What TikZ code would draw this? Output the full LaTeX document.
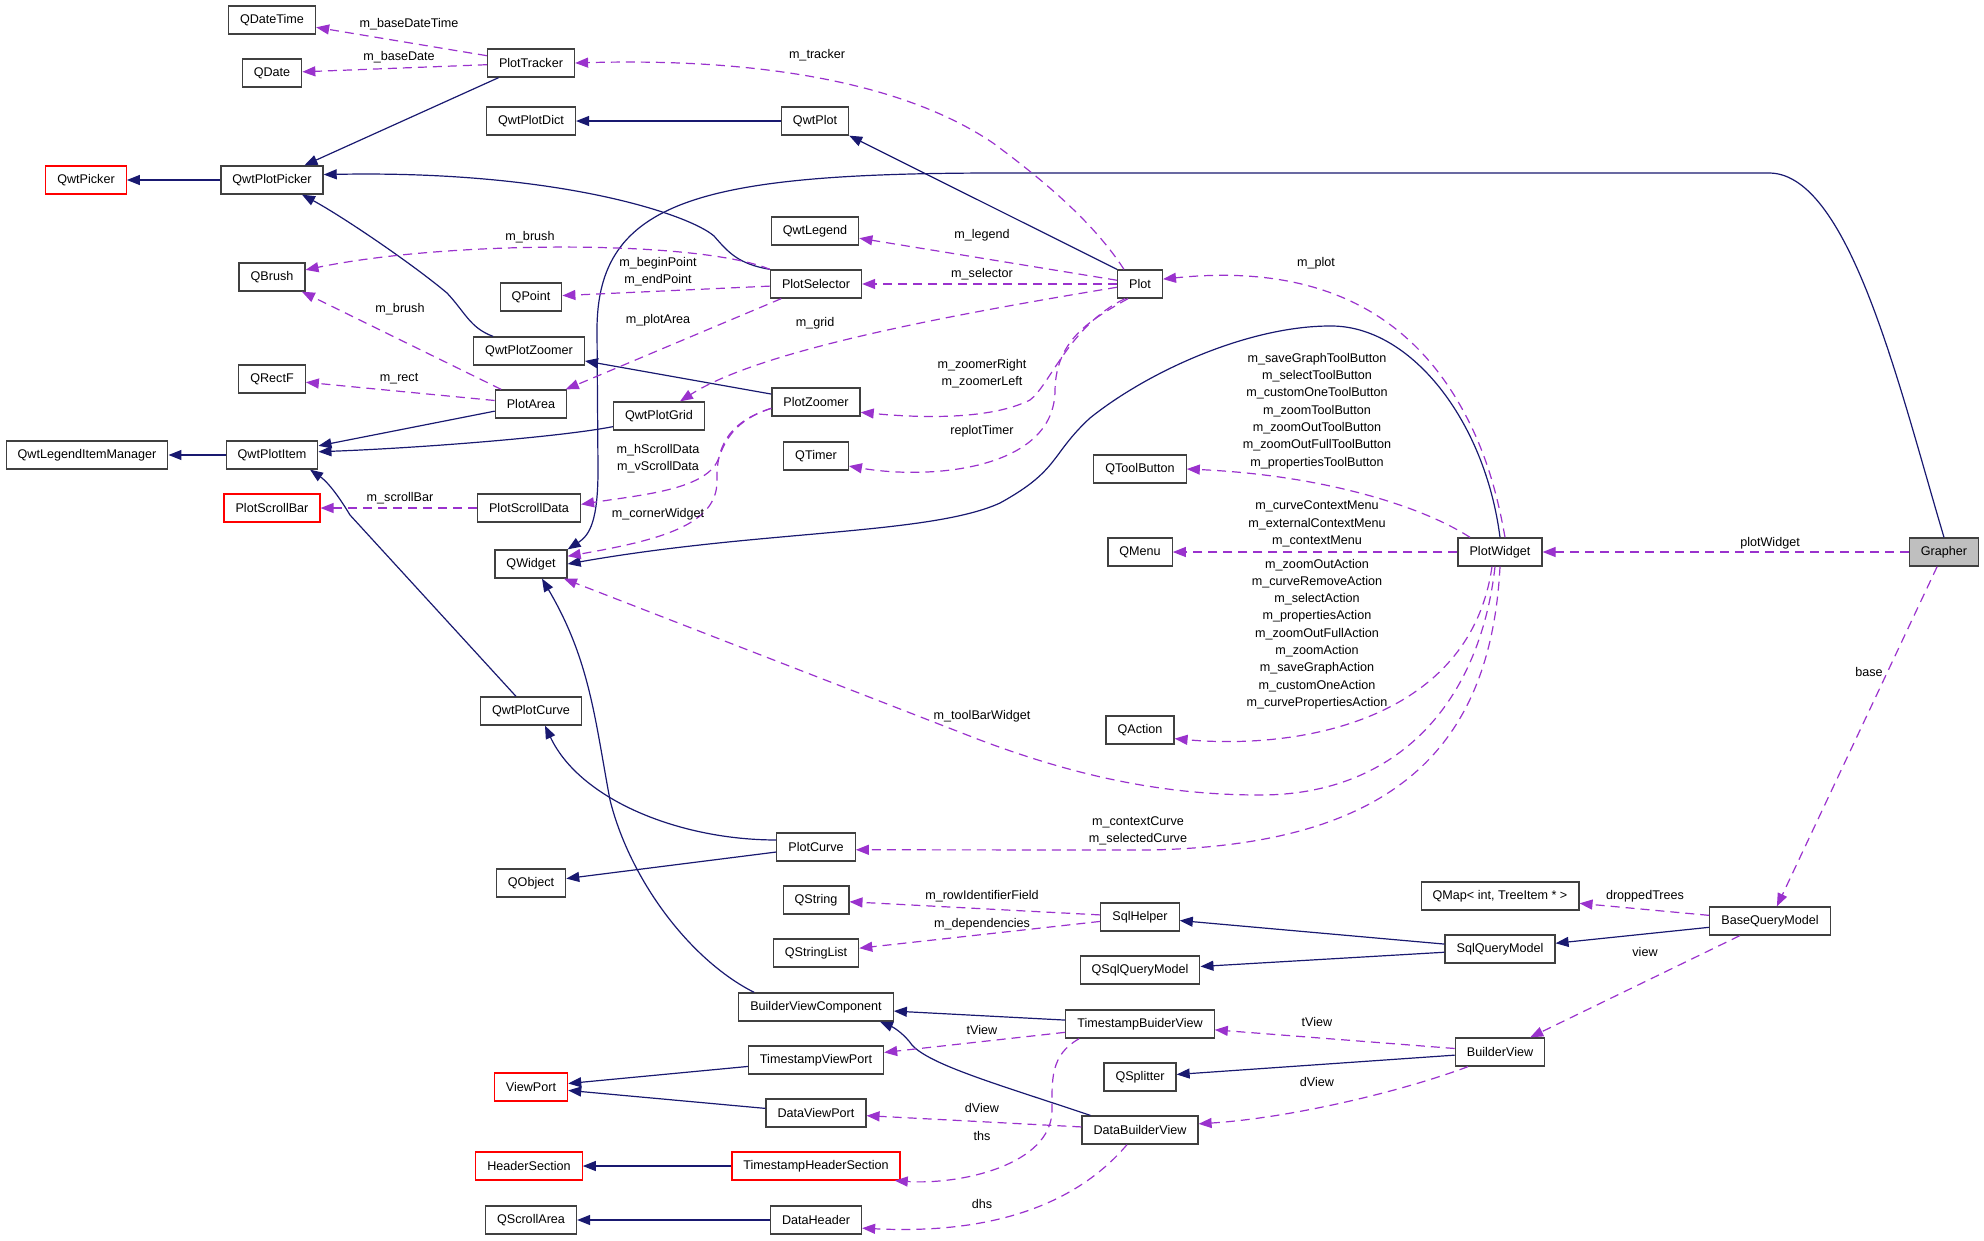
\documentclass[tikz,border=0pt]{standalone}
\usepackage{fontspec}
\setmainfont{Liberation Sans}
\usetikzlibrary{arrows.meta}
\definecolor{inhblue}{HTML}{191970}
\definecolor{memberpurple}{HTML}{9A32CD}
\definecolor{selfgrey}{HTML}{BFBFBF}
\tikzset{
  classbox/.style={draw=black!75, line width=1.3pt, rectangle, minimum height=28pt, inner xsep=11.5pt, inner ysep=0pt, font=\fontsize{12.6}{15}\selectfont},
  nodocbox/.style={classbox, draw=red},
  thisbox/.style={classbox, fill=selfgrey},
  inheritline/.style={draw=inhblue, line width=1.2pt, -{Triangle[length=13pt,width=10pt]}},
  memberline/.style={draw=memberpurple, line width=1.2pt, dash pattern=on 9pt off 6pt, -{Triangle[length=13pt,width=10pt]}},
  edgelabel/.style={inner sep=0pt, align=center, font=\fontsize{12.6}{17.3}\selectfont}
}

\begin{document}
\begin{tikzpicture}[x=1pt, y=-1pt]
			%%%%% START %%%%%
			\useasboundingbox (0,0) rectangle (1984,1240);
			
			% left columns
			\node[classbox] (qdatetime) at (272,20) {QDateTime};
			\node[classbox] (qdate) at (272,73) {QDate};
			\node[nodocbox] (qwtpicker) at (86,180) {QwtPicker};
			\node[classbox] (qwtplotpicker) at (272,180) {QwtPlotPicker};
			\node[classbox] (qbrush) at (272,277) {QBrush};
			\node[classbox] (qrectf) at (272,379) {QRectF};
			\node[classbox] (qwtlegenditemmanager) at (87,455) {QwtLegendItemManager};
			\node[classbox] (qwtplotitem) at (272,455) {QwtPlotItem};
			\node[nodocbox] (plotscrollbar) at (272,508) {PlotScrollBar};
			
			\node[classbox] (plottracker) at (531,63) {PlotTracker};
			\node[classbox] (qwtplotdict) at (531,121) {QwtPlotDict};
			\node[classbox] (qpoint) at (531,297) {QPoint};
			\node[classbox] (qwtplotzoomer) at (529,351) {QwtPlotZoomer};
			\node[classbox] (plotarea) at (531,404) {PlotArea};
			\node[classbox] (plotscrolldata) at (529,508) {PlotScrollData};
			\node[classbox] (qwidget) at (531,564) {QWidget};
			\node[classbox] (qwtplotcurve) at (531,711) {QwtPlotCurve};
			\node[classbox] (qobject) at (531,883) {QObject};
			\node[nodocbox] (viewport) at (531,1087) {ViewPort};
			\node[nodocbox] (headersection) at (529,1166) {HeaderSection};
			\node[classbox] (qscrollarea) at (531,1220) {QScrollArea};
			\node[classbox] (qwtplotgrid) at (659,416) {QwtPlotGrid};
			
			% middle column
			\node[classbox] (qwtplot) at (815,121) {QwtPlot};
			\node[classbox] (qwtlegend) at (815,231) {QwtLegend};
			\node[classbox] (plotselector) at (816,284) {PlotSelector};
			\node[classbox] (plotzoomer) at (816,402) {PlotZoomer};
			\node[classbox] (qtimer) at (816,456) {QTimer};
			\node[classbox] (plotcurve) at (816,847) {PlotCurve};
			\node[classbox] (qstring) at (816,900) {QString};
			\node[classbox] (qstringlist) at (816,953) {QStringList};
			\node[classbox] (builderviewcomponent) at (816,1007) {BuilderViewComponent};
			\node[classbox] (timestampviewport) at (816,1060) {TimestampViewPort};
			\node[classbox] (dataviewport) at (816,1113) {DataViewPort};
			\node[nodocbox] (timestampheadersection) at (816,1166) {TimestampHeaderSection};
			\node[classbox] (dataheader) at (816,1220) {DataHeader};
			
			\node[classbox] (plot) at (1140,284) {Plot};
			\node[classbox] (qtoolbutton) at (1140,469) {QToolButton};
			\node[classbox] (qmenu) at (1140,552) {QMenu};
			\node[classbox] (qaction) at (1140,730) {QAction};
			\node[classbox] (sqlhelper) at (1140,917) {SqlHelper};
			\node[classbox] (qsqlquerymodel) at (1140,970) {QSqlQueryModel};
			\node[classbox] (timestampbuiderview) at (1140,1024) {TimestampBuiderView};
			\node[classbox] (qsplitter) at (1140,1077) {QSplitter};
			\node[classbox] (databuilderview) at (1140,1130) {DataBuilderView};
			
			% right columns
			\node[classbox] (plotwidget) at (1500,552) {PlotWidget};
			\node[classbox] (qmap) at (1500,896) {QMap< int, TreeItem * >};
			\node[classbox] (sqlquerymodel) at (1500,949) {SqlQueryModel};
			\node[classbox] (builderview) at (1500,1052) {BuilderView};
			\node[classbox] (basequerymodel) at (1770,921) {BaseQueryModel};
			\node[thisbox] (grapher) at (1944,552) {Grapher};
			
			% inheritance
			\draw[inheritline] (qwtplotpicker) -- (qwtpicker);
			\draw[inheritline] (plottracker) -- (qwtplotpicker);
			\draw[inheritline] (plotselector.north west) .. controls (738,264) and (728,252) .. (714,236) .. controls (690,215) and (560,170) .. (qwtplotpicker.6);
			\draw[inheritline] ([xshift=20pt]qwtplotzoomer.north west) .. controls (470,328) and (465,312) .. (447,293) .. controls (410,262) and (340,215) .. ([xshift=30pt]qwtplotpicker.south);
			\draw[inheritline] (plotzoomer) -- (qwtplotzoomer);
			\draw[inheritline] (qwtplot) -- (qwtplotdict);
			\draw[inheritline] (plot.north west) -- (qwtplot.south east);
			\draw[inheritline] (plotarea) -- (qwtplotitem);
			\draw[inheritline] (qwtplotgrid.193) .. controls (560,437) and (420,448) .. (qwtplotitem.4);
			\draw[inheritline] (qwtplotitem) -- (qwtlegenditemmanager);
			\draw[inheritline] ([xshift=-15pt]qwtplotcurve.north) -- (350,515) .. controls (335,490) and (325,480) .. ([xshift=38pt]qwtplotitem.south);
			\draw[inheritline] (plotcurve.170) .. controls (680,840) and (580,800) .. ([xshift=14pt]qwtplotcurve.south);
			\draw[inheritline] (plotcurve) -- (qobject);
			\draw[inheritline] ([xshift=16pt]builderviewcomponent.north west) .. controls (690,960) and (630,880) .. (610,800) .. controls (595,720) and (590,660) .. ([xshift=11pt]qwidget.south);
			\draw[inheritline] (plotwidget.north) .. controls (1485,420) and (1410,325) .. (1330,326) .. controls (1250,326) and (1150,370) .. (1090,418) .. controls (1050,455) and (1060,470) .. (1000,503) .. controls (930,535) and (760,530) .. (qwidget.east);
			\draw[inheritline] (grapher.north) .. controls (1900,390) and (1850,175) .. (1770,173) -- (1000,173) .. controls (700,173) and (597,200) .. (597,330) -- (598,470) .. controls (598,520) and (590,535) .. (qwidget.north east);
			\draw[inheritline] (sqlquerymodel) -- (sqlhelper);
			\draw[inheritline] (sqlquerymodel) -- (qsqlquerymodel);
			\draw[inheritline] (basequerymodel) -- (sqlquerymodel);
			\draw[inheritline] (timestampbuiderview) -- (builderviewcomponent);
			\draw[inheritline] ([xshift=9pt]databuilderview.north west) .. controls (1000,1085) and (930,1065) .. (912,1045) .. controls (905,1035) and (895,1028) .. ([xshift=-14pt]builderviewcomponent.south east);
			\draw[inheritline] (builderview) -- (qsplitter);
			\draw[inheritline] (timestampviewport) -- (viewport);
			\draw[inheritline] (dataviewport) -- (viewport);
			\draw[inheritline] (timestampheadersection) -- (headersection);
			\draw[inheritline] (dataheader) -- (qscrollarea);
			
			% members
			\draw[memberline] (plottracker) -- (qdatetime);
			\draw[memberline] (plottracker) -- (qdate);
			\draw[memberline] ([xshift=-16pt]plot.north) .. controls (1095,225) and (1050,185) .. (993,143) .. controls (900,80) and (750,58) .. (plottracker.east);
			\draw[memberline] (plot) -- (qwtlegend);
			\draw[memberline] (plot) -- (plotselector);
			\draw[memberline] (plot.188) .. controls (950,315) and (760,350) .. ([xshift=21pt]qwtplotgrid.north);
			\draw[memberline] ([xshift=-15pt]plot.south) .. controls (1070,325) and (1050,385) .. (1030,400) .. controls (990,420) and (920,418) .. (plotzoomer.-13);
			\draw[memberline] ([xshift=-12pt]plot.south) .. controls (1090,320) and (1056,340) .. (1055,390) .. controls (1055,470) and (930,480) .. (qtimer.-17);
			\draw[memberline] (plotselector.north west) .. controls (700,240) and (450,240) .. (qbrush.12);
			\draw[memberline] (plotselector) -- (qpoint);
			\draw[memberline] (plotselector) -- (plotarea);
			\draw[memberline] (plotarea) -- (qbrush);
			\draw[memberline] (plotarea) -- (qrectf);
			\draw[memberline] (plotscrolldata) -- (plotscrollbar);
			\draw[memberline] (plotzoomer.188) .. controls (735,420) and (725,440) .. (718,460) .. controls (705,490) and (640,495) .. (plotscrolldata.4);
			\draw[memberline] (plotzoomer.188) .. controls (735,420) and (716,440) .. (717,480) .. controls (718,525) and (660,540) .. (qwidget.12);
			\draw[memberline] ([xshift=-5pt]plotwidget.south) .. controls (1480,700) and (1400,795) .. (1260,795) .. controls (1150,795) and (1060,770) .. (980,740) -- (qwidget.-24);
			\draw[memberline] ([xshift=-30pt]plotwidget.north) .. controls (1420,505) and (1320,475) .. (qtoolbutton.east);
			\draw[memberline] (plotwidget) -- (qmenu);
			\draw[memberline] ([xshift=-8pt]plotwidget.south) .. controls (1470,720) and (1300,750) .. (qaction.-14);
			\draw[memberline] (plotwidget.south) .. controls (1490,760) and (1380,845) .. (1150,850) -- (plotcurve.-4);
			\draw[memberline] ([xshift=5pt]plotwidget.north) .. controls (1495,480) and (1480,440) .. (1460,405) .. controls (1400,300) and (1300,265) .. (plot.12);
			\draw[memberline] (grapher) -- (plotwidget);
			\draw[memberline] (grapher) -- (basequerymodel);
			\draw[memberline] (basequerymodel) -- (qmap);
			\draw[memberline] (basequerymodel) -- (builderview);
			\draw[memberline] (sqlhelper) -- (qstring);
			\draw[memberline] (sqlhelper) -- (qstringlist);
			\draw[memberline] (builderview) -- (timestampbuiderview);
			\draw[memberline] ([xshift=-32pt]builderview.south) .. controls (1400,1092) and (1290,1118) .. (databuilderview.6);
			\draw[memberline] (timestampbuiderview) -- (timestampviewport);
			\draw[memberline] (databuilderview) -- (dataviewport);
			\draw[memberline] ([xshift=14pt]timestampbuiderview.south west) .. controls (1050,1055) and (1052,1080) .. (1052,1110) .. controls (1052,1165) and (960,1185) .. ([xshift=-6pt]timestampheadersection.south east);
			\draw[memberline] ([xshift=-13pt]databuilderview.south) .. controls (1080,1200) and (1000,1235) .. (dataheader.-10);
			
			% edge labels
			\node[edgelabel] (lbasedatetime) at (409,24) {m\_baseDateTime};
			\node[edgelabel] (lbasedate) at (399,57) {m\_baseDate};
			\node[edgelabel] (ltracker) at (817,55) {m\_tracker};
			\node[edgelabel] (llegend) at (982,235) {m\_legend};
			\node[edgelabel] (lselector) at (982,274) {m\_selector};
			\node[edgelabel] (lplot) at (1316,263) {m\_plot};
			\node[edgelabel] (lbrushtop) at (530,237) {m\_brush};
			\node[edgelabel] (lpoints) at (658,272) {m\_beginPoint\\m\_endPoint};
			\node[edgelabel] (lplotarea) at (658,320) {m\_plotArea};
			\node[edgelabel] (lgrid) at (815,323) {m\_grid};
			\node[edgelabel] (lbrush) at (400,309) {m\_brush};
			\node[edgelabel] (lrect) at (399,379) {m\_rect};
			\node[edgelabel] (lzoomers) at (982,374) {m\_zoomerRight\\m\_zoomerLeft};
			\node[edgelabel] (lreplot) at (982,431) {replotTimer};
			\node[edgelabel] (lscrollbar) at (400,498) {m\_scrollBar};
			\node[edgelabel] (lscrolldata) at (658,459) {m\_hScrollData\\m\_vScrollData};
			\node[edgelabel] (lcorner) at (658,514) {m\_cornerWidget};
			\node[edgelabel] (ltoolbuttons) at (1317,411) {m\_saveGraphToolButton\\m\_selectToolButton\\m\_customOneToolButton\\m\_zoomToolButton\\m\_zoomOutToolButton\\m\_zoomOutFullToolButton\\m\_propertiesToolButton};
			\node[edgelabel] (lmenus) at (1317,524) {m\_curveContextMenu\\m\_externalContextMenu\\m\_contextMenu};
			\node[edgelabel] (lactions) at (1317,634) {m\_zoomOutAction\\m\_curveRemoveAction\\m\_selectAction\\m\_propertiesAction\\m\_zoomOutFullAction\\m\_zoomAction\\m\_saveGraphAction\\m\_customOneAction\\m\_curvePropertiesAction};
			\node[edgelabel] (ltoolbar) at (982,716) {m\_toolBarWidget};
			\node[edgelabel] (lcurves) at (1138,831) {m\_contextCurve\\m\_selectedCurve};
			\node[edgelabel] (lplotwidget) at (1770,543) {plotWidget};
			\node[edgelabel] (lbase) at (1869,672) {base};
			\node[edgelabel] (ldropped) at (1645,896) {droppedTrees};
			\node[edgelabel] (lview) at (1645,952) {view};
			\node[edgelabel] (lrowid) at (982,896) {m\_rowIdentifierField};
			\node[edgelabel] (ldeps) at (982,924) {m\_dependencies};
			\node[edgelabel] (ltviewtop) at (1317,1022) {tView};
			\node[edgelabel] (ldviewtop) at (1317,1082) {dView};
			\node[edgelabel] (ltview) at (982,1030) {tView};
			\node[edgelabel] (ldview) at (982,1108) {dView};
			\node[edgelabel] (lths) at (982,1136) {ths};
			\node[edgelabel] (ldhs) at (982,1204) {dhs};
			
			%%%%% END %%%%%
\end{tikzpicture}
\end{document}
